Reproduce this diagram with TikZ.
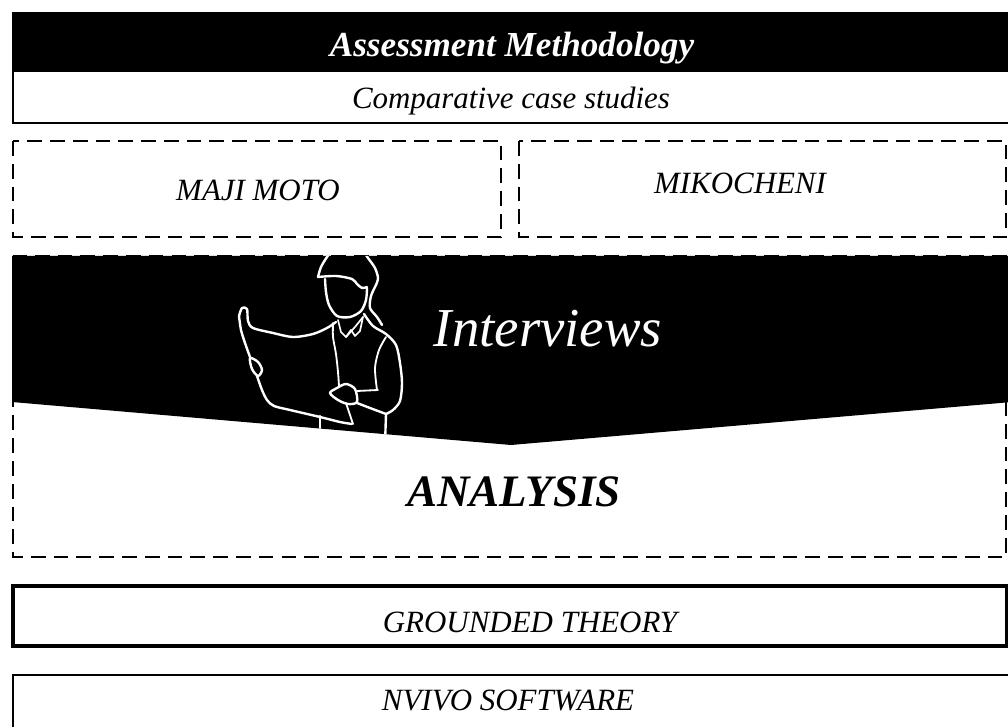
\documentclass[tikz,border=0pt]{standalone}
\usepackage{fontspec}
\setmainfont{Liberation Serif}
\usepackage{tikz}

\tikzset{
  dashbox/.style={draw, line width=2pt, dash pattern=on 10.5pt off 5.7pt},
  label/.style={anchor=base, font=\itshape\fontsize{22}{26}\selectfont},
  figline/.style={white, line width=1.7pt, line cap=round, line join=round},
}

\begin{document}
\begin{tikzpicture}[x=0.025cm, y=-0.025cm]
\useasboundingbox (0,0) rectangle (1008,727);
\clip (0,0) rectangle (1008,727);

% header and case-study band
\fill[black] (12,12) rectangle (1012,71);
\draw[line width=2pt] (13,71) rectangle (1016,123);
\node[label, white, font=\bfseries\itshape\fontsize{25}{30}\selectfont] (title) at (512,57) {Assessment Methodology};
\node[label] (cases) at (511,109) {Comparative case studies};

% the two sites
\draw[dashbox] (13,141) rectangle (501,237);
\draw[dashbox] (519,141) rectangle (1006,237);
\node[label] (majimoto) at (258,201) {MAJI MOTO};
\node[label] (mikocheni) at (740,194) {MIKOCHENI};

% interviews over analysis
\draw[dashbox] (13,256) rectangle (1006,557);
\fill[black] (12,256) -- (1012,256) -- (1012,402) -- (511,445) -- (12,402) -- cycle;

\begin{scope}
\clip (12,256) -- (1012,256) -- (1012,402) -- (511,445) -- (12,402) -- cycle;
% hard hat
\draw[figline] plot[smooth] coordinates {(318,277) (321,267) (327,257) (333,249)};
\draw[figline] plot[smooth] coordinates {(362,249) (368,258) (375,268) (378,278) (376,285)};
\draw[figline] plot[smooth] coordinates {(318,277) (336,276) (352,279) (357,284) (362,288) (367,287)};
% face and back of the head
\draw[figline] plot[smooth] coordinates {(325,279) (326,292) (329,305) (337,316) (350,317) (361,311) (366,300) (367,288)};
\draw[figline] plot[smooth] coordinates {(376,285) (371,296) (370,308) (377,317) (382,325)};
% collar
\draw[figline, line width=1.2pt] (338,320) -- (341,332) -- (346,337) -- (351,330);
\draw[figline, line width=1.2pt] (346,337) -- (355,327) -- (363,317);
\draw[figline, line width=1.2pt] (363,317) -- (360,331) -- (355,336) -- (351,330);
% body and right arm
\draw[figline, line width=1.3pt] plot[smooth] coordinates {(333,323) (333,337) (336,354) (338,372) (339,386)};
\draw[figline] plot[smooth] coordinates {(364,314) (373,326) (386,334) (396,345) (400,363) (402,383) (400,401) (393,410) (386,414)};
\draw[figline, line width=1.3pt] plot[smooth] coordinates {(386,337) (379,350) (375,368) (377,390)};
\draw[figline, line width=1.3pt] (357,391) -- (378,390);
\draw[figline] plot[smooth] coordinates {(357,403) (370,408) (386,414)};
\draw[figline] (386,414) -- (385,445);
% hand holding the plan
\draw[figline] plot[smooth cycle] coordinates {(330,393) (337,388) (346,384) (355,389) (357,402) (348,404) (338,400)};
% the plan
\draw[figline] plot[smooth] coordinates {(239,316) (242,308) (247,309) (248,321) (253,328) (273,333) (293,337) (313,334) (327,328) (336,322)};
\draw[figline] plot[smooth] coordinates {(239,316) (241,330) (245,343) (250,357)};
\draw[figline] plot[smooth cycle] coordinates {(250,358) (258,362) (262,370) (258,376) (252,369)};
\draw[figline] plot[smooth] coordinates {(257,376) (262,390) (267,400) (274,406) (290,410) (320,417) (340,422) (352,424)};
\draw[figline, line width=1.3pt] (346,403) -- (353,424);
\draw[figline] (320,416) -- (320,445);
\end{scope}

\node[label, white, font=\itshape\fontsize{39}{44}\selectfont] (interviews) at (548,347) {Interviews};
\node[label, font=\bfseries\itshape\fontsize{32}{38}\selectfont] (analysis) at (514,507) {ANALYSIS};

% method and tool
\draw[line width=2.5pt] (13,586) rectangle (1007,646);
\node[label] (grounded) at (530,632) {GROUNDED THEORY};
\draw[line width=1pt] (13,675) rectangle (1016,745);
\node[label] (nvivo) at (508,710) {NVIVO SOFTWARE};
\end{tikzpicture}
\end{document}
